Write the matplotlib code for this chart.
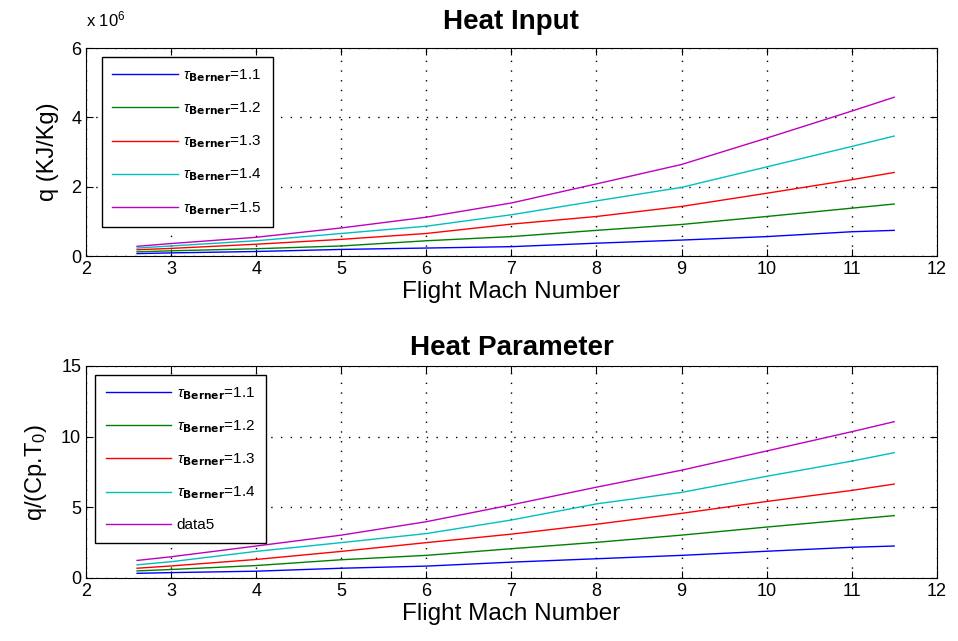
import numpy as np
import matplotlib
matplotlib.use('Agg')
import matplotlib.pyplot as plt

plt.rcParams['font.family'] = ['Liberation Sans', 'DejaVu Sans']
plt.rcParams['mathtext.fontset'] = 'custom'
plt.rcParams['mathtext.rm'] = 'Liberation Sans'
plt.rcParams['mathtext.it'] = 'Liberation Sans:italic'
plt.rcParams['mathtext.bf'] = 'Liberation Sans Narrow:bold'

mach = [2.6, 3, 4, 5, 6, 7, 8, 9, 10, 11, 11.5]

# heat input, units of 1e6 KJ/Kg
q_11 = [0.07, 0.09, 0.13, 0.19, 0.23, 0.27, 0.37, 0.46, 0.56, 0.70, 0.74]
q_12 = [0.12, 0.15, 0.21, 0.29, 0.44, 0.56, 0.74, 0.91, 1.14, 1.38, 1.50]
q_13 = [0.18, 0.22, 0.34, 0.48, 0.65, 0.92, 1.14, 1.43, 1.81, 2.20, 2.41]
q_14 = [0.23, 0.29, 0.44, 0.65, 0.86, 1.19, 1.59, 1.98, 2.57, 3.16, 3.46]
q_15 = [0.28, 0.36, 0.54, 0.81, 1.12, 1.53, 2.08, 2.64, 3.40, 4.18, 4.58]

# heat parameter q/(Cp.T0)
h_11 = [0.33, 0.38, 0.48, 0.69, 0.84, 1.12, 1.36, 1.60, 1.89, 2.17, 2.26]
h_12 = [0.50, 0.60, 0.88, 1.29, 1.60, 2.07, 2.52, 3.03, 3.60, 4.14, 4.41]
h_13 = [0.69, 0.85, 1.31, 1.88, 2.50, 3.10, 3.80, 4.57, 5.41, 6.19, 6.64]
h_14 = [0.93, 1.15, 1.88, 2.50, 3.14, 4.10, 5.24, 6.05, 7.19, 8.26, 8.86]
h_15 = [1.24, 1.50, 2.26, 3.03, 3.98, 5.17, 6.42, 7.62, 8.98, 10.34, 11.05]

colors = [(0, 0, 1), (0, 0.5, 0), (1, 0, 0), (0, 0.75, 0.75), (0.75, 0, 0.75)]
top_labels = [r'$\tau_{\mathbf{Berner}}$=1.1', r'$\tau_{\mathbf{Berner}}$=1.2',
              r'$\tau_{\mathbf{Berner}}$=1.3', r'$\tau_{\mathbf{Berner}}$=1.4',
              r'$\tau_{\mathbf{Berner}}$=1.5']
bot_labels = top_labels[:4] + ['data5']

fig = plt.figure(figsize=(9.58, 6.41), dpi=100)
ax1 = fig.add_axes([0.0898, 0.6006, 0.888, 0.3245])
ax2 = fig.add_axes([0.0898, 0.0983, 0.888, 0.331])

def style(ax):
    ax.grid(True, color='k', linestyle=(0, (1, 6)), linewidth=1.0)
    ax.tick_params(direction='in', top=True, right=True, length=5,
                   labelsize=13, width=0.8)
    for s in ax.spines.values():
        s.set_linewidth(0.8)
    ax.set_xlim(2, 12)
    ax.set_xticks(range(2, 13))

def add_legend(ax, x0):
    ax.legend(loc='upper left', bbox_to_anchor=(x0, 0.958), borderaxespad=0,
              fontsize=11, fancybox=False, edgecolor='k', framealpha=1,
              handlelength=4.3, handletextpad=0.35, labelspacing=1.1,
              borderpad=0.7)

for y, c, lab in zip([q_11, q_12, q_13, q_14, q_15], colors, top_labels):
    ax1.plot(mach, y, color=c, lw=1, label=lab)
style(ax1)
ax1.set_ylim(0, 6)
ax1.set_yticks([0, 2, 4, 6])
ax1.set_title('Heat Input', fontsize=20, fontweight='bold', pad=14)
ax1.set_xlabel('Flight Mach Number', fontsize=17.5, labelpad=2)
ax1.set_ylabel('q (KJ/Kg)', fontsize=17, labelpad=9)
ax1.text(0.0, 1.105, r'x 10$^6$', transform=ax1.transAxes, fontsize=12)
add_legend(ax1, 0.0184)

for y, c, lab in zip([h_11, h_12, h_13, h_14, h_15], colors, bot_labels):
    ax2.plot(mach, y, color=c, lw=1, label=lab)
style(ax2)
ax2.set_ylim(0, 15)
ax2.set_yticks([0, 5, 10, 15])
ax2.set_title('Heat Parameter', fontsize=20, fontweight='bold', pad=8)
ax2.set_xlabel('Flight Mach Number', fontsize=17.5, labelpad=2)
ax2.set_ylabel(r'q/(Cp.T$_0$)', fontsize=17, labelpad=9)
add_legend(ax2, 0.0106)

fig.savefig('out.png', dpi=100, facecolor='white')
